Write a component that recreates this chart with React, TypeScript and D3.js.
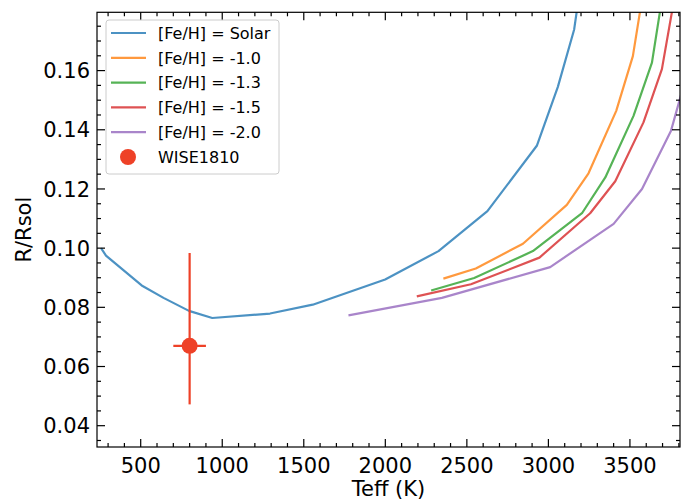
import * as React from 'react'
import { useEffect, useRef } from 'react'
import * as d3 from 'd3'

// model tracks
const solarTeff = [257, 287, 506, 640, 796, 939, 1293, 1555, 1999, 2326, 2626, 2929, 3058, 3158, 3200]
const solarR = [0.1000, 0.0975, 0.0874, 0.0832, 0.0788, 0.0764, 0.0779, 0.0809, 0.0894, 0.0990, 0.1125, 0.1346, 0.1545, 0.1739, 0.1900]

const m10Teff = [2356, 2555, 2844, 3113, 3246, 3416, 3518, 3600]
const m10R = [0.0897, 0.0931, 0.1015, 0.1146, 0.1253, 0.1464, 0.1649, 0.1930]

const m13Teff = [2281, 2545, 2905, 3206, 3349, 3522, 3635, 3710]
const m13R = [0.0857, 0.0899, 0.0990, 0.1118, 0.1239, 0.1447, 0.1627, 0.1890]

const m15Teff = [2193, 2525, 2945, 3256, 3410, 3583, 3696, 3790]
const m15R = [0.0837, 0.0878, 0.0968, 0.1118, 0.1226, 0.1425, 0.1605, 0.1900]

const m20Teff = [1774, 2347, 3011, 3400, 3574, 3752, 3850]
const m20R = [0.0773, 0.0832, 0.0936, 0.1082, 0.1200, 0.1397, 0.1590]

const seriesLabels = ['[Fe/H] = Solar', '[Fe/H] = -1.0', '[Fe/H] = -1.3', '[Fe/H] = -1.5', '[Fe/H] = -2.0']
const seriesColors = ['#1f77b4', '#ff7f0e', '#2ca02c', '#d62728', '#9467bd']

// WISE1810 point
const wiseTeff = 800
const wiseTeffErr = 100
const wiseR = 0.067
const wiseRLow = 0.0472
const wiseRHigh = 0.0984
const wiseLabel = 'WISE1810'
const wiseColor = '#ee4127'

const xMajor = [500, 1000, 1500, 2000, 2500, 3000, 3500]
const yMajor = [0.04, 0.06, 0.08, 0.10, 0.12, 0.14, 0.16]

const width = 691
const height = 502
const margin = { top: 12.3, right: 11, bottom: 55, left: 97 }
const font = 'DejaVu Sans, sans-serif'

const App = () => {
    const chartRef = useRef(null)

    useEffect(() => {
        const svg = d3.select(chartRef.current)
        svg.selectAll('*').remove()

        const x = d3.scaleLinear().domain([232, 3807]).range([margin.left, width - margin.right])
        const y = d3.scaleLinear().domain([0.0328, 0.1797]).range([height - margin.bottom, margin.top])

        svg.append('rect').attr('width', width).attr('height', height).attr('fill', 'white')

        svg.append('clipPath').attr('id', 'plotclip')
            .append('rect')
            .attr('x', margin.left).attr('y', margin.top)
            .attr('width', width - margin.left - margin.right)
            .attr('height', height - margin.top - margin.bottom)

        const plot = svg.append('g').attr('clip-path', 'url(#plotclip)')

        const tracks = [
            [solarTeff, solarR], [m10Teff, m10R], [m13Teff, m13R], [m15Teff, m15R], [m20Teff, m20R]
        ]
        const line = d3.line<[number, number]>().x(d => x(d[0])).y(d => y(d[1]))

        tracks.forEach(([ts, rs], i) => {
            const pts = ts.map((t, j) => [t, rs[j]] as [number, number])
            plot.append('path')
                .attr('d', line(pts))
                .attr('fill', 'none')
                .attr('stroke', seriesColors[i])
                .attr('stroke-opacity', 0.8)
                .attr('stroke-width', 2.2)
                .attr('stroke-linejoin', 'round')
        })

        // error bars + point
        plot.append('line')
            .attr('x1', x(wiseTeff)).attr('x2', x(wiseTeff))
            .attr('y1', y(wiseRLow)).attr('y2', y(wiseRHigh))
            .attr('stroke', wiseColor).attr('stroke-width', 2.2)
        plot.append('line')
            .attr('x1', x(wiseTeff - wiseTeffErr)).attr('x2', x(wiseTeff + wiseTeffErr))
            .attr('y1', y(wiseR)).attr('y2', y(wiseR))
            .attr('stroke', wiseColor).attr('stroke-width', 2.2)
        plot.append('circle')
            .attr('cx', x(wiseTeff)).attr('cy', y(wiseR)).attr('r', 8)
            .attr('fill', wiseColor)

        // axes, ticks inward on all sides
        const x0 = margin.left, x1 = width - margin.right
        const y0 = height - margin.bottom, y1 = margin.top
        const axes = svg.append('g').attr('stroke', 'black').attr('stroke-width', 1.2)

        const xMinor = d3.range(300, 3801, 100).filter(v => v % 500 !== 0)
        const yMinor = d3.range(35, 180, 5).map(v => v / 1000).filter(v => Math.round(v * 1000) % 20 !== 0)

        const xTicks = [...xMajor.map(v => [v, 8]), ...xMinor.map(v => [v, 4])]
        const yTicks = [...yMajor.map(v => [v, 8]), ...yMinor.map(v => [v, 4])]

        xTicks.forEach(([v, len]) => {
            axes.append('line').attr('x1', x(v)).attr('x2', x(v)).attr('y1', y0).attr('y2', y0 - len)
            axes.append('line').attr('x1', x(v)).attr('x2', x(v)).attr('y1', y1).attr('y2', y1 + len)
        })
        yTicks.forEach(([v, len]) => {
            axes.append('line').attr('x1', x0).attr('x2', x0 + len).attr('y1', y(v)).attr('y2', y(v))
            axes.append('line').attr('x1', x1).attr('x2', x1 - len).attr('y1', y(v)).attr('y2', y(v))
        })

        axes.append('rect')
            .attr('x', x0).attr('y', y1)
            .attr('width', x1 - x0).attr('height', y0 - y1)
            .attr('fill', 'none')

        svg.selectAll('.xlab')
            .data(xMajor)
            .enter()
            .append('text')
            .attr('x', d => x(d))
            .attr('y', 472.7)
            .attr('text-anchor', 'middle')
            .style('font-family', font)
            .style('font-size', '21px')
            .text(d => d3.format('d')(d))

        svg.selectAll('.ylab')
            .data(yMajor)
            .enter()
            .append('text')
            .attr('x', 90)
            .attr('y', d => y(d))
            .attr('dy', '0.36em')
            .attr('text-anchor', 'end')
            .style('font-family', font)
            .style('font-size', '21px')
            .text(d => d3.format('.2f')(d))

        svg.append('text')
            .attr('x', (x0 + x1) / 2)
            .attr('y', 495.5)
            .attr('text-anchor', 'middle')
            .style('font-family', font)
            .style('font-size', '21px')
            .text('Teff (K)')

        svg.append('text')
            .attr('transform', `translate(31, ${(y0 + y1) / 2}) rotate(-90)`)
            .attr('text-anchor', 'middle')
            .style('font-family', font)
            .style('font-size', '21px')
            .text('R/Rsol')

        // legend
        const lg = svg.append('g')
        lg.append('rect')
            .attr('x', 106).attr('y', 20)
            .attr('width', 173).attr('height', 154)
            .attr('rx', 3)
            .attr('fill', 'white').attr('fill-opacity', 0.8)
            .attr('stroke', '#cccccc').attr('stroke-width', 1)

        const rowY = (i: number) => 33 + i * 24.8
        seriesLabels.forEach((lab, i) => {
            lg.append('line')
                .attr('x1', 111).attr('x2', 146)
                .attr('y1', rowY(i)).attr('y2', rowY(i))
                .attr('stroke', seriesColors[i]).attr('stroke-opacity', 0.8)
                .attr('stroke-width', 2.2)
            lg.append('text')
                .attr('x', 158).attr('y', rowY(i)).attr('dy', '0.36em')
                .style('font-family', font).style('font-size', '16px')
                .text(lab)
        })
        lg.append('circle')
            .attr('cx', 128).attr('cy', rowY(5)).attr('r', 8)
            .attr('fill', wiseColor)
        lg.append('text')
            .attr('x', 158).attr('y', rowY(5)).attr('dy', '0.36em')
            .style('font-family', font).style('font-size', '16px')
            .text(wiseLabel)
    }, [])

    return (
        <svg ref={chartRef} width={width} height={height}
            style={{ position: 'absolute', left: 0, top: 0 }}></svg>
    )
}

export default App
